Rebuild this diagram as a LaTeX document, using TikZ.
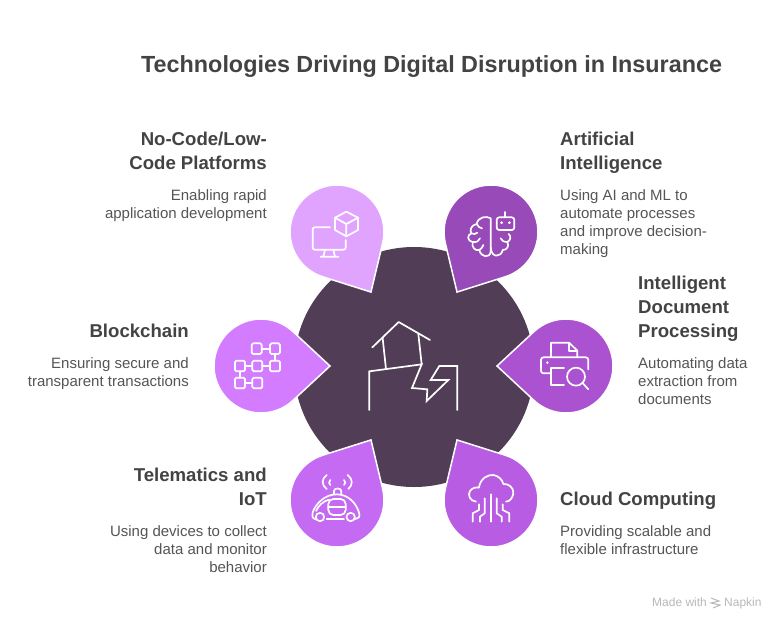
\documentclass[tikz,border=0pt]{standalone}
\usepackage{fontspec}
\setmainfont{Liberation Sans}
\definecolor{ink}{HTML}{434343}
\definecolor{bodyink}{HTML}{555555}
\definecolor{hub}{HTML}{513E56}
\definecolor{cNoCode}{HTML}{E0A4FF}
\definecolor{cAI}{HTML}{974AB8}
\definecolor{cChain}{HTML}{D47CFF}
\definecolor{cIDP}{HTML}{AB52D1}
\definecolor{cIoT}{HTML}{C56AF2}
\definecolor{cCloud}{HTML}{B85DE3}
\definecolor{wmark}{HTML}{B8B8B8}
\newcommand{\hs}{\rule{0pt}{17pt}}
\newcommand{\bs}{\rule{0pt}{13pt}}
\newcommand{\droplet}[4]{%
  \begin{scope}[shift={(#1,#2)}]
    \draw[draw=white,line width=1.5pt,line join=miter,fill=#4]
      (#3:69) -- ({#3+47}:47) arc[start angle={#3+47},end angle={#3+313},radius=47] -- cycle;
  \end{scope}}
\tikzset{
  x=1pt,y=-1pt,
  headr/.style={anchor=north east,inner sep=0pt,align=right,text=ink,font=\fontsize{18.6}{24}\selectfont\bfseries},
  headl/.style={anchor=north west,inner sep=0pt,align=left,text=ink,font=\fontsize{18.6}{24}\selectfont\bfseries},
  bodyr/.style={anchor=north east,inner sep=0pt,align=right,text=bodyink,font=\fontsize{15}{18}\selectfont},
  bodyl/.style={anchor=north west,inner sep=0pt,align=left,text=bodyink,font=\fontsize{15}{18}\selectfont},
  icon/.style={draw=white,line width=1.7pt,line cap=round,line join=round,fill=none},
  glyph/.style={x=0.33333pt,y=-0.33333pt},
}
\begin{document}
\begin{tikzpicture}
\useasboundingbox[fill=white] (0,0) rectangle (779,624);
\fill[hub] (414,367) circle[radius=120];
\droplet{337}{232}{60.5}{cNoCode}
\droplet{491}{232}{119.5}{cAI}
\droplet{261}{366}{0}{cChain}
\droplet{566}{366}{180}{cIDP}
\droplet{337}{500}{-60.5}{cIoT}
\droplet{491}{500}{-119.5}{cCloud}

\node[anchor=base west,inner sep=0pt,text=ink,font=\fontsize{23.35}{28}\selectfont\bfseries] (title) at (141,72) {Technologies Driving Digital Disruption in Insurance};

\node[headr] (h1) at (267,128) {\hs No-Code/Low-\\Code Platforms};
\node[bodyr] (b1) at (267,187) {\bs Enabling rapid\\application development};
\node[headl] (h2) at (560,128) {\hs Artificial\\Intelligence};
\node[bodyl] (b2) at (560,187) {\bs Using AI and ML to\\automate processes\\and improve decision-\\making};
\node[headl] (h3) at (638,272) {\hs Intelligent\\Document\\Processing};
\node[bodyl] (b3) at (638,355) {\bs Automating data\\extraction from\\documents};
\node[headr] (h4) at (189,320) {\hs Blockchain};
\node[bodyr] (b4) at (189,355) {\bs Ensuring secure and\\transparent transactions};
\node[headr] (h5) at (267,464) {\hs Telematics and\\IoT};
\node[bodyr] (b5) at (267,523) {\bs Using devices to collect\\data and monitor\\behavior};
\node[headl] (h6) at (560,488) {\hs Cloud Computing};
\node[bodyl] (b6) at (560,523) {\bs Providing scalable and\\flexible infrastructure};

% monitor and cube
\begin{scope}[shift={(280,170)},glyph]
  \draw[icon,rounded corners=2pt] (150,172) -- (98,172) -- (98,239) -- (197,239) -- (197,210);
  \draw[icon] (135,239) -- (130,260) (160,239) -- (165,260) (122,260) -- (175,260);
  \draw[icon] (199,125) -- (234,143) -- (234,180) -- (199,199) -- (165,180) -- (165,143) -- cycle;
  \draw[icon] (165,143) -- (199,162) -- (234,143) (199,162) -- (199,199);
\end{scope}
% brain and robot
\begin{scope}[shift={(280,170)},glyph]
  \draw[icon] (632,145) .. controls (620,137) and (594,140) .. (590,162)
     .. controls (574,165) and (568,180) .. (574,190)
     .. controls (560,195) and (562,214) .. (578,216)
     .. controls (574,232) and (586,244) .. (598,240)
     .. controls (602,262) and (630,266) .. (632,245) -- cycle;
  \draw[icon] (590,162) .. controls (594,170) and (600,174) .. (606,175)
     (574,190) .. controls (580,194) and (588,192) .. (592,188)
     (578,216) .. controls (590,218) and (598,212) .. (600,205)
     (598,240) .. controls (604,236) and (608,232) .. (610,225);
  \draw[icon] (632,232) .. controls (634,266) and (664,262) .. (668,240)
     .. controls (682,240) and (688,228) .. (682,216)
     .. controls (692,212) and (694,198) .. (686,192);
  \draw[icon] (682,216) .. controls (672,216) and (664,212) .. (662,205);
  \draw[icon,rounded corners=2.5pt] (650,142) rectangle (703,180);
  \draw[icon] (675,142) -- (675,126);
  \fill[white] (665,158) circle[radius=1.5pt] (688,158) circle[radius=1.5pt];
\end{scope}
% blocks
\begin{scope}[shift={(200,300)},glyph]
  \foreach \px/\py in {155/130,210/130,105/182,157/182,210/182,105/233,157/233}
    \draw[icon,rounded corners=1.5pt] (\px,\py) rectangle ++(30,32);
  \draw[icon] (185,146) -- (210,146) (135,198) -- (157,198) (187,198) -- (210,198)
     (120,214) -- (120,233) (135,249) -- (157,249) (225,162) -- (225,182);
\end{scope}
% cracked house
\begin{scope}[shift={(200,300)},glyph]
  \draw[icon,line width=1.7pt] (517,142) -- (596,66) -- (690,120);
  \draw[icon,line width=1.7pt] (548,115) -- (558,207) (655,102) -- (665,193);
  \draw[icon,line width=1.7pt,line join=miter] (508,330) -- (508,214) -- (665,193) -- (636,264) -- (682,268) -- (680,303) -- (745,240) -- (692,240) -- (718,198) -- (772,198) -- (772,330);
\end{scope}
% printer with magnifier
\begin{scope}[shift={(490,310)},glyph]
  \draw[icon,rounded corners=2.5pt] (183,190) -- (153,190) -- (153,142) -- (295,142) -- (295,178);
  \draw[icon] (183,142) -- (183,98) -- (237,98) -- (262,122) -- (262,142);
  \draw[icon] (237,98) -- (237,122) -- (262,122);
  \draw[icon] (222,175) -- (183,175) -- (183,225) -- (222,225);
  \fill[white] (172,158) circle[radius=1.4pt];
  \draw[icon] (258,200) circle[radius=9pt];
  \draw[icon] (277,218) -- (295,238);
\end{scope}
% car
\begin{scope}[shift={(280,435)},glyph]
  \draw[icon] (107,253) .. controls (96,250) and (95,240) .. (98,232)
     .. controls (108,205) and (135,178) .. (170,178)
     .. controls (205,178) and (230,205) .. (238,236)
     .. controls (240,245) and (235,252) .. (226,252);
  \draw[icon] (120,246) circle[radius=4.2pt] (212,246) circle[radius=4.2pt];
  \draw[icon] (140,252) -- (192,252);
  \draw[icon,rounded corners=5pt] (145,192) rectangle (197,240);
  \draw[icon] (145,216) -- (197,216);
  \draw[icon] (108,228) .. controls (115,212) and (130,198) .. (147,194);
  \draw[icon] (162,178) -- (162,168) .. controls (162,158) and (184,158) .. (184,168) -- (184,178);
  \draw[icon] (140,120) .. controls (124,132) and (124,150) .. (140,162);
  \draw[icon] (151,135) .. controls (146,140) and (146,146) .. (151,150);
  \draw[icon] (203,120) .. controls (219,132) and (219,150) .. (205,162);
  \draw[icon] (192,135) .. controls (197,140) and (197,146) .. (192,150);
\end{scope}
% cloud with circuits
\begin{scope}[shift={(280,435)},glyph]
  \draw[icon] (588,200) .. controls (570,198) and (562,180) .. (570,168)
     .. controls (576,158) and (590,156) .. (597,158)
     .. controls (600,130) and (625,118) .. (640,120)
     .. controls (655,122) and (668,135) .. (670,147)
     .. controls (685,145) and (702,158) .. (700,175)
     .. controls (698,190) and (688,200) .. (678,200);
  \draw[icon] (632,178) -- (632,260);
  \draw[icon] (614,190) -- (614,235) -- (600,245) -- (600,260);
  \draw[icon] (597,208) -- (597,225) -- (578,235) -- (578,260);
  \draw[icon] (650,190) -- (650,235) -- (665,245) -- (665,260);
  \draw[icon] (668,208) -- (668,225) -- (688,235) -- (688,260);
\end{scope}
% watermark
\node[anchor=base west,inner sep=0pt,text=wmark,font=\fontsize{12}{14}\selectfont] (made) at (652,606) {Made with};
\node[anchor=base west,inner sep=0pt,text=wmark,font=\fontsize{12}{14}\selectfont] (napkin) at (724,606) {Napkin};
\draw[draw=wmark,line width=1pt] (711,598) -- (719,601) -- (711,603) -- (720,605) -- (713,608);
\end{tikzpicture}
\end{document}
